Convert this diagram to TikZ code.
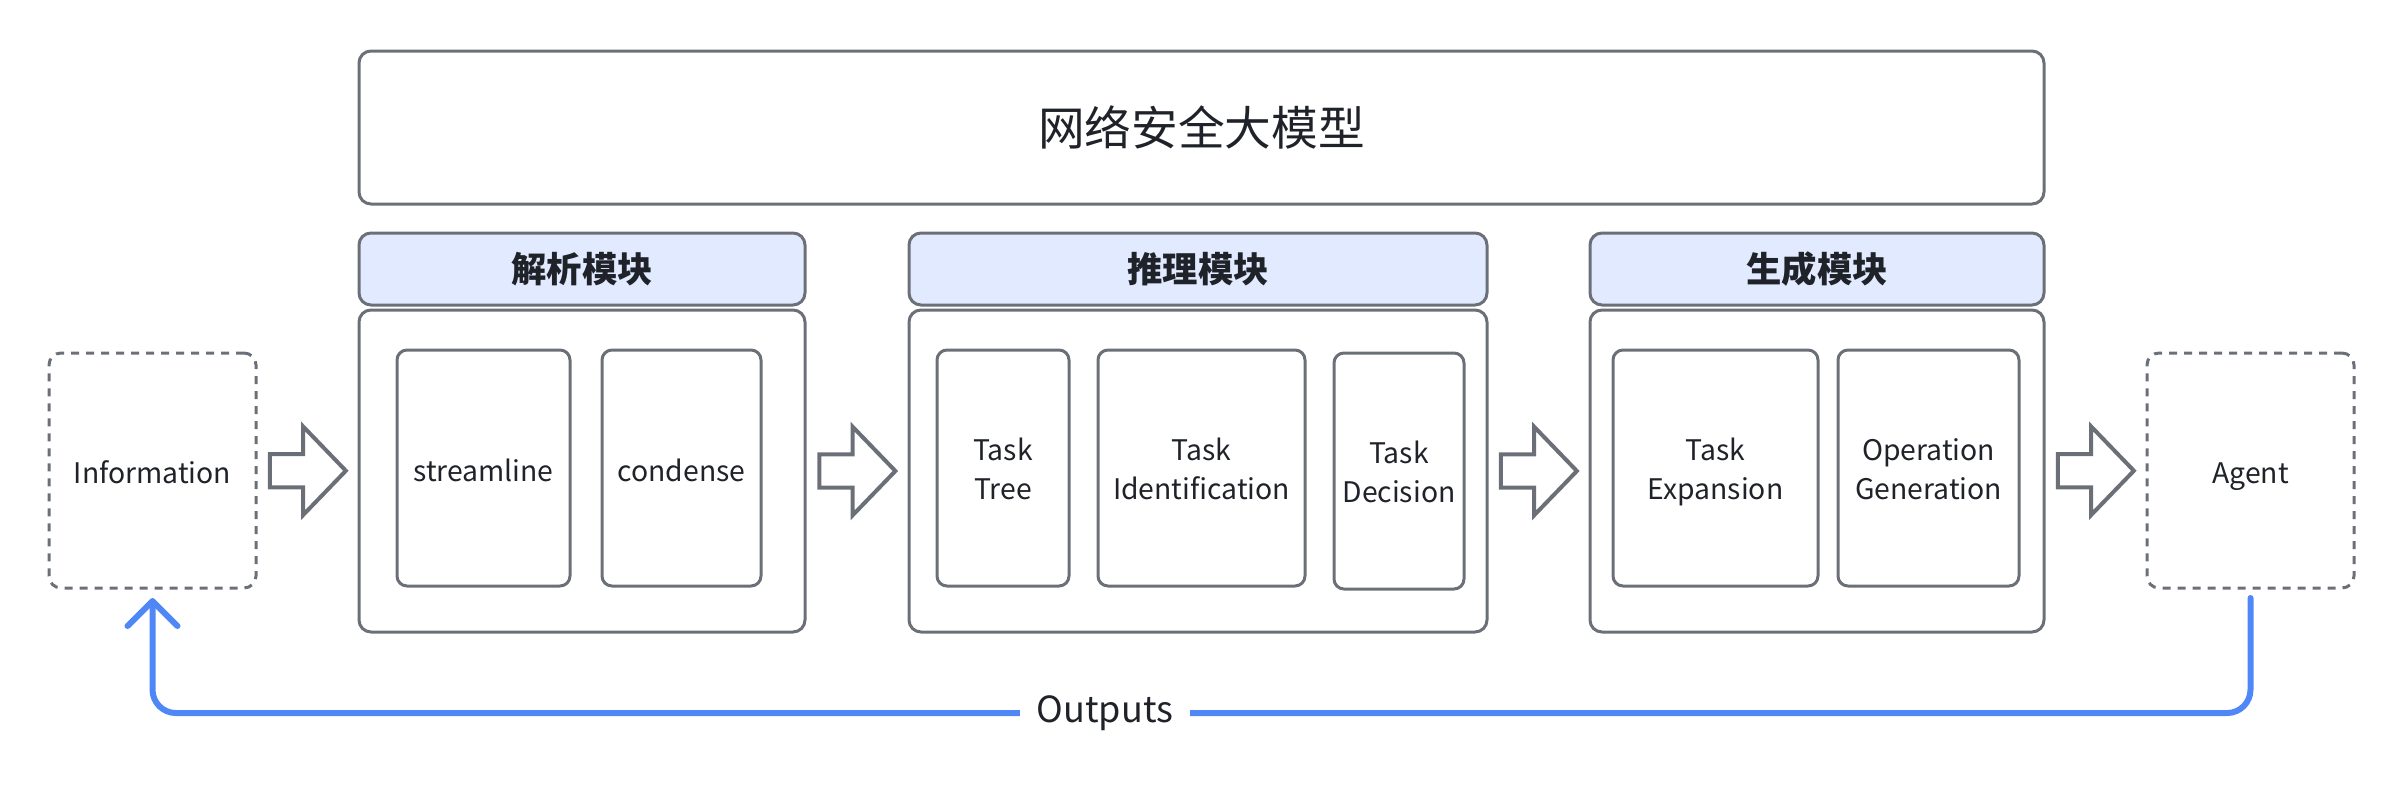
\documentclass[tikz,border=0pt]{standalone}
\usepackage{fontspec}
\setmainfont{Noto Sans CJK SC}
\usetikzlibrary{positioning,calc,shapes.arrows,arrows.meta}
\definecolor{edge}{HTML}{6B7078}
\definecolor{headfill}{HTML}{E1EAFF}
\definecolor{loopblue}{HTML}{4F87F7}
\definecolor{ink}{HTML}{1F2329}
\tikzset{
  box/.style={draw=edge,line width=0.9pt,rounded corners=3.6pt,text=ink,align=center,inner sep=0pt,outer sep=0pt},
  body/.style={box,minimum height=96.6pt},
  head/.style={box,fill=headfill,minimum height=21.6pt,font=\fontsize{10.6}{12}\selectfont\bfseries},
  unit/.style={box,rounded corners=3pt,minimum height=70.8pt,text height=8pt,text depth=0pt,font=\fontsize{8.5}{11.8}\selectfont},
  twoline/.style={text height=18.8pt},
  ends/.style={box,dash pattern=on 2.4pt off 2.1pt,minimum width=62.1pt,minimum height=70.5pt,text height=8pt,text depth=0pt,font=\fontsize{8.5}{11.8}\selectfont},
  hollow/.style={single arrow,draw=edge,line width=1.2pt,inner xsep=0pt,inner ysep=4.4pt,xshift=-2.3pt,
    single arrow head extend=8.3pt,single arrow tip angle=92,minimum height=22.8pt},
  feedback/.style={draw=loopblue,line width=1.8pt,rounded corners=7pt,line cap=round,
    shorten <=3pt,shorten >=3pt,-{Straight Barb[length=7.5pt,width=15pt,round]}}
}

\begin{document}
\begin{tikzpicture}[x=1pt,y=-1pt]
\useasboundingbox (0,0) rectangle (721.2,238.8);

\node[box,minimum width=505.5pt,minimum height=45.9pt,font=\fontsize{14}{16}\selectfont] (llm) at (360.45,38.25) {网络安全大模型};

% modules
\node[body,minimum width=133.8pt] (parse) at (174.6,141.3) {};
\node[head,minimum width=133.8pt,above=1.5pt of parse] (parsehead) {解析模块};
\node[body,minimum width=173.4pt] (reason) at (359.4,141.3) {};
\node[head,minimum width=173.4pt,above=1.5pt of reason] (reasonhead) {推理模块};
\node[body,minimum width=136.2pt] (gen) at (545.1,141.3) {};
\node[head,minimum width=136.2pt,above=1.5pt of gen] (genhead) {生成模块};

\node[unit,minimum width=51.9pt] (stream) at (145.05,140.4) {streamline};
\node[unit,minimum width=47.7pt,right=9.6pt of stream] (cond) {condense};

\node[unit,twoline,minimum width=39.6pt] (tree) at (300.9,140.4) {Task\\Tree};
\node[unit,twoline,minimum width=62.1pt,right=8.7pt of tree] (ident) {Task\\Identification};
\node[unit,twoline,minimum width=39pt,right=8.7pt of ident,yshift=-0.9pt] (decide) {Task\\Decision};

\node[unit,twoline,minimum width=61.5pt] (expand) at (514.65,140.4) {Task\\Expansion};
\node[unit,twoline,minimum width=54.3pt,right=6pt of expand] (opgen) {Operation\\Generation};

% input and output
\node[ends] (info) at (45.75,141.15) {Information};
\node[ends] (agent) at (675.15,141.15) {Agent};

\node[hollow] (a1) at ($(info.east)!0.5!(parse.west)$) {};
\node[hollow] (a2) at ($(parse.east)!0.5!(reason.west)$) {};
\node[hollow] (a3) at ($(reason.east)!0.5!(gen.west)$) {};
\node[hollow] (a4) at ($(gen.east)!0.5!(agent.west)$) {};

\draw[feedback] (agent.south) -- ++(0,37.5) -| node[pos=0.273,fill=white,inner xsep=5pt,text=ink,font=\fontsize{10.8}{13}\selectfont] (out) {Outputs} (info.south);

\end{tikzpicture}
\end{document}
